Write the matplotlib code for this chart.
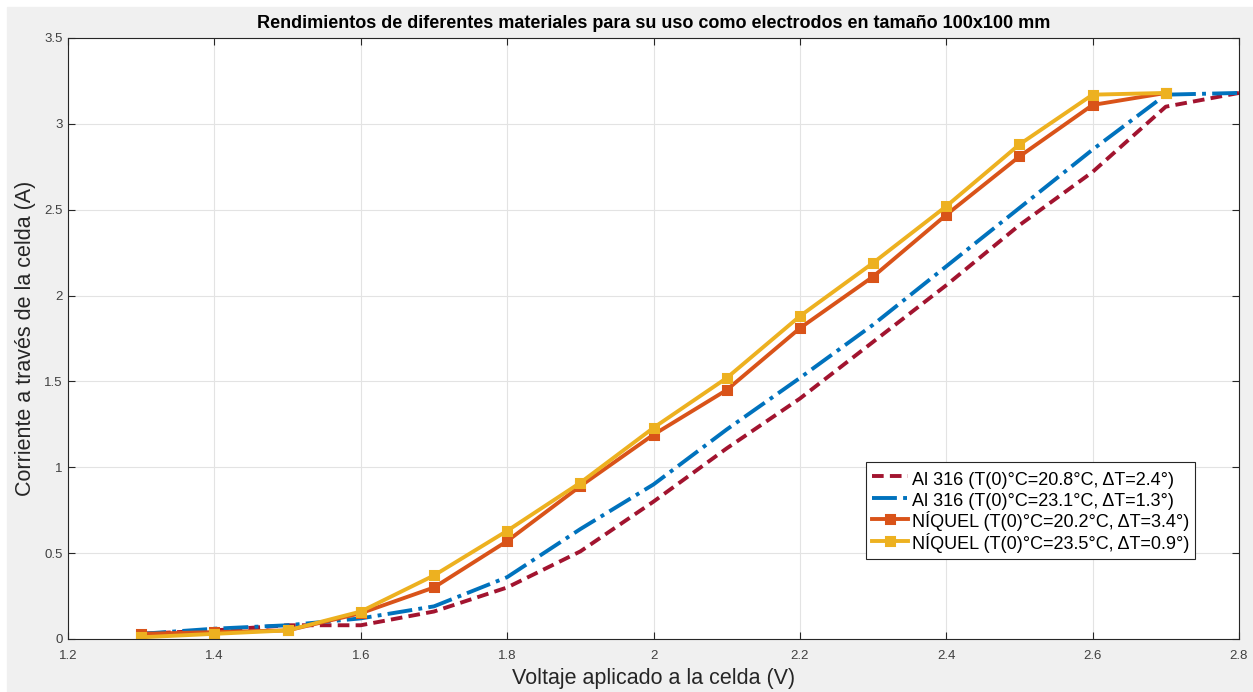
import matplotlib.pyplot as plt
from matplotlib.patches import Rectangle

plt.rcParams['font.family'] = ['Liberation Sans', 'DejaVu Sans']

# voltage steps (V)
volt_al = [1.3, 1.4, 1.5, 1.6, 1.7, 1.8, 1.9, 2.0, 2.1, 2.2, 2.3, 2.4, 2.5, 2.6, 2.7, 2.8]
volt_ni = [1.3, 1.4, 1.5, 1.6, 1.7, 1.8, 1.9, 2.0, 2.1, 2.2, 2.3, 2.4, 2.5, 2.6, 2.7]

# current (A)
al_208 = [0.03, 0.05, 0.08, 0.08, 0.16, 0.30, 0.51, 0.80, 1.11, 1.40, 1.73, 2.06, 2.41, 2.72, 3.10, 3.18]
al_231 = [0.03, 0.06, 0.08, 0.12, 0.19, 0.36, 0.64, 0.90, 1.22, 1.52, 1.83, 2.17, 2.51, 2.85, 3.17, 3.18]
ni_202 = [0.03, 0.04, 0.05, 0.15, 0.30, 0.57, 0.89, 1.19, 1.45, 1.81, 2.11, 2.47, 2.81, 3.11, 3.18]
ni_235 = [0.01, 0.03, 0.05, 0.16, 0.37, 0.63, 0.91, 1.23, 1.52, 1.88, 2.19, 2.52, 2.88, 3.17, 3.18]

labels = ['Al 316 (T(0)°C=20.8°C, ΔT=2.4°)',
          'Al 316 (T(0)°C=23.1°C, ΔT=1.3°)',
          'NÍQUEL (T(0)°C=20.2°C, ΔT=3.4°)',
          'NÍQUEL (T(0)°C=23.5°C, ΔT=0.9°)']

fig = plt.figure(figsize=(12.53, 6.92), dpi=100, facecolor='white')
# grey figure area (white strip on top and left, like the screenshot)
fig.patches.append(Rectangle((0.0056, 0), 1, 0.9899, transform=fig.transFigure,
                             color='#f0f0f0', zorder=-10))
ax = fig.add_axes([0.0543, 0.0766, 0.9345, 0.8685])

ax.plot(volt_al, al_208, color='#A2142F', ls='--', lw=2.8, dashes=(3, 1.6), label=labels[0])
ax.plot(volt_al, al_231, color='#0072BD', ls='-.', lw=2.8, label=labels[1])
ax.plot(volt_ni, ni_202, color='#D95319', lw=2.8, marker='s', ms=6, mew=2.2, label=labels[2])
ax.plot(volt_ni, ni_235, color='#EDB120', lw=2.8, marker='s', ms=6, mew=2.2, label=labels[3])

ax.set_xlim(1.2, 2.8)
ax.set_ylim(0, 3.5)
ax.set_xticks([1.2, 1.4, 1.6, 1.8, 2.0, 2.2, 2.4, 2.6, 2.8])
ax.set_xticklabels(['1.2', '1.4', '1.6', '1.8', '2', '2.2', '2.4', '2.6', '2.8'])
ax.set_yticks([0, 0.5, 1, 1.5, 2, 2.5, 3, 3.5])
ax.set_yticklabels(['0', '0.5', '1', '1.5', '2', '2.5', '3', '3.5'])
ax.grid(True, color='#e3e3e3', lw=0.8)
ax.set_axisbelow(True)
ax.tick_params(direction='in', labelsize=9.5, colors='#262626', labelcolor='#404040',
               length=5, top=True, right=True)
ax.tick_params(axis='x', pad=8)
ax.tick_params(axis='y', pad=4)
for s in ax.spines.values():
    s.set_color('#262626')
    s.set_linewidth(0.8)

ax.set_xlabel('Voltaje aplicado a la celda (V)', fontsize=15.5, color='#262626', labelpad=4)
ax.set_ylabel('Corriente a través de la celda (A)', fontsize=15.5, color='#262626', labelpad=6)
ax.set_title('Rendimientos de diferentes materiales para su uso como electrodos en tamaño 100x100 mm',
             fontsize=13, fontweight='bold', pad=7)

leg = ax.legend(loc='lower right', bbox_to_anchor=(0.9625, 0.133), fontsize=13,
                handlelength=2.0, handleheight=1.45, handletextpad=0.25, borderpad=0.3,
                labelspacing=0.0, fancybox=False, framealpha=1, edgecolor='#262626',
                borderaxespad=0)
leg.get_frame().set_linewidth(0.8)

fig.savefig('out.png', dpi=100, facecolor=fig.get_facecolor())
